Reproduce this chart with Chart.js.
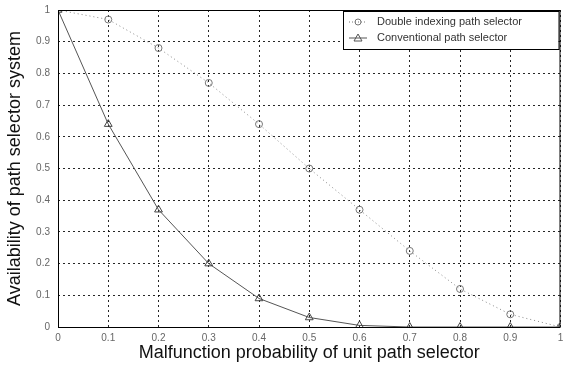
<!DOCTYPE html>
<html>
<head>
<meta charset="utf-8">
<script src="https://cdn.jsdelivr.net/npm/chart.js@4.4.0/dist/chart.umd.min.js"></script>
<style>
  html, body { margin: 0; padding: 0; background: #fff; }
  #wrap { width: 566px; height: 370px; }
</style>
</head>
<body>
<div id="wrap"><canvas id="chartCanvas" width="566" height="370"></canvas></div>
<script>
// Malfunction probability of unit path selector
const probs = [0, 0.1, 0.2, 0.3, 0.4, 0.5, 0.6, 0.7, 0.8, 0.9, 1];

// Availability values
const doubleIndexing = [1, 0.97, 0.88, 0.77, 0.64, 0.5, 0.37, 0.24, 0.12, 0.04, 0];
const conventional = [1, 0.64, 0.37, 0.2, 0.09, 0.03, 0.005, 0, 0, 0, 0];

const seriesNames = ["Double indexing path selector", "Conventional path selector"];

function toPoints(values) {
  return probs.map((p, i) => ({ x: p, y: values[i] }));
}

function tickLabel(value) {
  const v = Math.round(value * 10) / 10;
  return v === 0 || v === 1 ? String(v) : v.toFixed(1);
}

// Frame round the plot and the boxed legend, MATLAB style
const framePlugin = {
  id: "frame",
  afterDraw(chart) {
    const ctx = chart.ctx;
    const a = chart.chartArea;
    ctx.save();
    ctx.strokeStyle = "#000";
    ctx.lineWidth = 1;
    ctx.setLineDash([]);
    ctx.strokeRect(a.left + 0.5, a.top + 0.5, a.right - a.left - 1, a.bottom - a.top);

    // legend box
    const bx = 343, by = a.top + 1, bw = a.right - bx - 2, bh = 38;
    ctx.fillStyle = "#fff";
    ctx.fillRect(bx, by, bw, bh);
    ctx.strokeRect(bx + 0.5, by + 0.5, bw, bh);

    ctx.font = "11px 'Liberation Sans', Arial, sans-serif";
    ctx.fillStyle = "#333";
    ctx.textBaseline = "middle";

    // entry 1: dotted line with circle
    let y = by + 11;
    ctx.strokeStyle = "#777";
    ctx.setLineDash([1, 2]);
    ctx.beginPath();
    ctx.moveTo(bx + 6, y); ctx.lineTo(bx + 24, y); ctx.stroke();
    ctx.setLineDash([]);
    ctx.beginPath();
    ctx.arc(bx + 15, y, 3, 0, Math.PI * 2);
    ctx.stroke();
    ctx.fillText(seriesNames[0], bx + 34, y);

    // entry 2: solid line with triangle
    y = by + 27;
    ctx.strokeStyle = "#555";
    ctx.beginPath();
    ctx.moveTo(bx + 6, y); ctx.lineTo(bx + 24, y); ctx.stroke();
    ctx.beginPath();
    ctx.moveTo(bx + 15, y - 4); ctx.lineTo(bx + 19, y + 3); ctx.lineTo(bx + 11, y + 3); ctx.closePath();
    ctx.stroke();
    ctx.fillText(seriesNames[1], bx + 34, y);
    ctx.restore();
  },
};

const gridStyle = {
  color: "rgba(0,0,0,0.85)",
  lineWidth: 1,
  tickLength: 0,
  drawTicks: false,
};

const myChart = new Chart(document.getElementById("chartCanvas").getContext("2d"), {
  type: "line",
  data: {
    datasets: [
      {
        label: seriesNames[0],
        data: toPoints(doubleIndexing),
        borderColor: "#888",
        borderWidth: 1,
        borderDash: [1, 3],
        pointStyle: "circle",
        pointRadius: 3.5,
        pointBorderColor: "#777",
        pointBackgroundColor: "rgba(0,0,0,0)",
        pointBorderWidth: 1,
        tension: 0,
      },
      {
        label: seriesNames[1],
        data: toPoints(conventional),
        borderColor: "#555",
        borderWidth: 1,
        pointStyle: "triangle",
        pointRadius: 4.5,
        pointBorderColor: "#444",
        pointBackgroundColor: "rgba(0,0,0,0)",
        pointBorderWidth: 1,
        tension: 0,
      },
    ],
  },
  options: {
    responsive: false,
    animation: false,
    layout: { padding: { top: 10, right: 2, left: 4, bottom: 0 } },
    plugins: {
      legend: { display: false },
      tooltip: { enabled: false },
    },
    scales: {
      x: {
        type: "linear",
        min: 0,
        max: 1,
        border: { display: false, dash: [2, 3] },
        grid: gridStyle,
        ticks: {
          stepSize: 0.1,
          padding: 5,
          color: "#666",
          font: { size: 10, family: "'Liberation Sans', Arial, sans-serif" },
          callback: tickLabel,
          maxRotation: 0,
        },
        title: {
          display: true,
          text: "Malfunction probability of unit path selector",
          color: "#111",
          font: { size: 18, family: "'Liberation Sans', Arial, sans-serif" },
          padding: { top: 0, bottom: 6 },
        },
        afterFit(scale) {
          scale.height = 43;
          scale.paddingLeft = 0;
          scale.paddingRight = 0;
        },
      },
      y: {
        type: "linear",
        min: 0,
        max: 1,
        border: { display: false, dash: [2, 3] },
        grid: gridStyle,
        ticks: {
          stepSize: 0.1,
          padding: 8,
          color: "#666",
          font: { size: 10, family: "'Liberation Sans', Arial, sans-serif" },
          callback: tickLabel,
        },
        title: {
          display: true,
          text: "Availability of path selector system",
          color: "#111",
          font: { size: 18, family: "'Liberation Sans', Arial, sans-serif" },
          padding: { top: 0, bottom: 4 },
        },
        afterFit(scale) {
          scale.width = 54;
          scale.paddingTop = 0;
          scale.paddingBottom = 0;
        },
      },
    },
  },
  plugins: [framePlugin],
});
</script>
</body>
</html>
